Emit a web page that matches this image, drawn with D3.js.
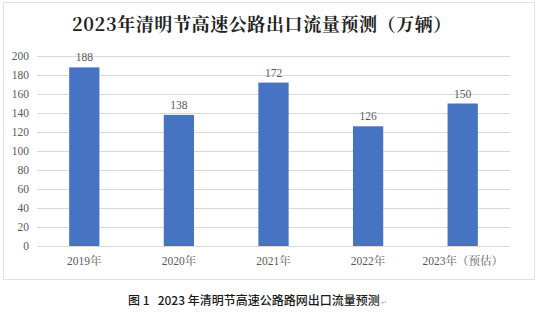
<!DOCTYPE html>
<html><head><meta charset="utf-8">
<script src="https://cdn.jsdelivr.net/npm/d3@7/dist/d3.min.js"></script>
<style>
body{margin:0;background:#fff;}
svg{display:block;}
</style></head>
<body><svg id="c" width="540" height="320"></svg>
<script>
const categories = ["2019年","2020年","2021年","2022年","2023年（预估）"];
const values = [188,138,172,126,150];
const yTicks = [0,20,40,60,80,100,120,140,160,180,200];
const title = "2023年清明节高速公路出口流量预测（万辆）";
const caption = "图\u00a01\u00a0\u00a0\u00a02023\u00a0年清明节高速公路路网出口流量预测";

const svg = d3.select("#c");
const serif = "'Liberation Serif','Noto Serif CJK SC','Noto Sans CJK SC',serif";
const cjk = "'Noto Sans CJK SC',sans-serif";

// frame
svg.append("rect").attr("x",3.5).attr("y",2.5).attr("width",531).attr("height",277)
  .attr("fill","none").attr("stroke","#e2e2e2").attr("stroke-width",1);

const x = d3.scaleBand().domain(categories).range([37,510]).paddingInner(0.68).paddingOuter(0.34);
const y = d3.scaleLinear().domain([0,200]).range([246,56]);

// gridlines
svg.append("g").selectAll("line").data(yTicks).join("line")
  .attr("x1",37).attr("x2",510).attr("y1",d=>y(d)+0.5).attr("y2",d=>y(d)+0.5)
  .attr("stroke","#d9d9d9").attr("stroke-width",1);

// y axis
const yAxis = d3.axisLeft(y).tickValues(yTicks).tickSize(0).tickPadding(0);
const gy = svg.append("g").attr("transform","translate(29,0)").call(yAxis);
gy.select(".domain").remove();
gy.selectAll("text").attr("font-family",serif).attr("font-size",11.5).attr("fill","#595959");

// bars
svg.append("g").selectAll("rect").data(values).join("rect")
  .attr("x",(d,i)=>x(categories[i])).attr("width",x.bandwidth())
  .attr("y",d=>y(d)).attr("height",d=>y(0)-y(d))
  .attr("fill","#4774c2");

// value labels
svg.append("g").selectAll("text").data(values).join("text")
  .attr("x",(d,i)=>x(categories[i])+x.bandwidth()/2).attr("y",d=>y(d)-6)
  .attr("text-anchor","middle").attr("font-family",serif).attr("font-size",11.5)
  .attr("fill","#595959").text(d=>d);

// x axis
const xAxis = d3.axisBottom(x).tickSize(0).tickPadding(11);
const gx = svg.append("g").attr("transform","translate(0,246)").call(xAxis);
gx.select(".domain").remove();
gx.selectAll("text").attr("font-family",serif).attr("font-size",11.5).attr("fill","#595959");

// title
svg.append("text").attr("x",262).attr("y",31).attr("text-anchor","middle")
  .attr("font-family","'Noto Serif CJK SC','Noto Sans CJK SC',serif").attr("font-weight","bold")
  .attr("font-size",18).attr("letter-spacing",0.6).attr("fill","#222").text(title);

// caption
const cap = svg.append("text").attr("x",128).attr("y",305)
  .attr("font-family",cjk).attr("font-size",12).attr("font-weight",500)
  .attr("fill","#1a1a1a").text(caption);
const cw = cap.node().getComputedTextLength();
svg.append("text").attr("x",128+cw+1).attr("y",305).attr("font-family",cjk).attr("font-size",7)
  .attr("fill","#aaa").text("↵");
</script></body></html>
